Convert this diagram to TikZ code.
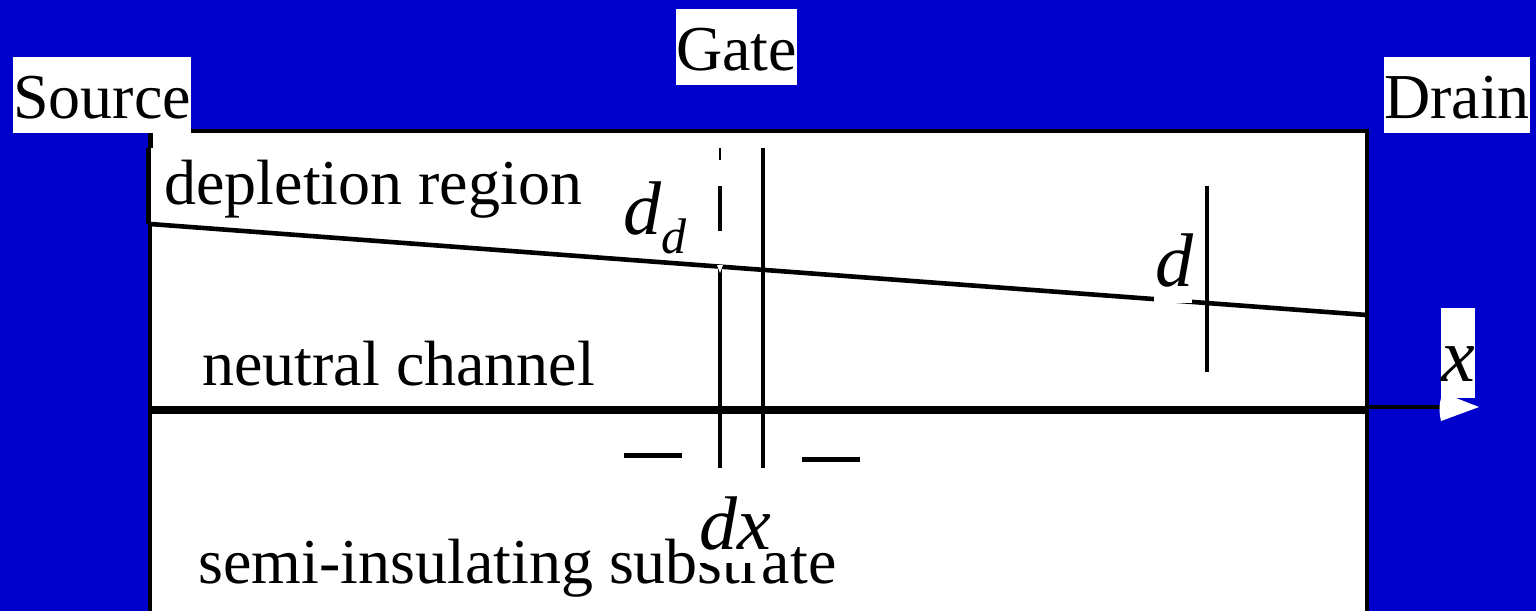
\documentclass[tikz,border=0pt]{standalone}
\usepackage{fontspec}
\setmainfont{Liberation Serif}
\definecolor{slideblue}{HTML}{0000CC}
\tikzset{
	wire/.style={draw=black, line width=2.3pt},
	padlabel/.style={anchor=base, fill=white, inner sep=0pt, minimum width=#1, text height=30.5pt, text depth=7.5pt, font=\fontsize{32}{36}\selectfont},
	regionlabel/.style={anchor=base west, inner sep=0pt, font=\fontsize{32}{36}\selectfont},
	symlabel/.style={anchor=base west, inner sep=0pt, font=\fontsize{38}{42}\selectfont\itshape}
}
\begin{document}
\begin{tikzpicture}[x=0.5pt, y=-0.5pt]
	% Fondo y dispositivo
	\useasboundingbox (0,0) rectangle (1536,611);
	\fill [slideblue] (0,0) rectangle (1536,611);
	\fill [white] (150,131) rectangle (1367,611);

	% Puntos de referencia
	\coordinate (topleft) at (150.5,131);
	\coordinate (topright) at (1367,131);
	\coordinate (notchtop) at (148.5,148);
	\coordinate (notchbot) at (148.5,224);
	\coordinate (botleft) at (150,611);
	\coordinate (botright) at (1367,611);
	\coordinate (depleft) at (150,224);
	\coordinate (depright) at (1367,315);
	\coordinate (chanleft) at (150,410);
	\coordinate (chanright) at (1367,410);
	\coordinate (axistail) at (1367,407);
	\coordinate (axishead) at (1442,407);

	% Contorno
	\draw [wire] (botleft) -- (depleft);
	\draw [wire] (notchtop) -- (notchbot);
	\draw [wire] (topleft |- notchtop) -- (topleft) -- (topright) -- (botright);

	% Zona de agotamiento, canal y eje
	\draw [wire] (depleft) -- (depright);
	\draw [draw=black, line width=3.6pt] (chanleft) -- (chanright);
	\draw [wire] (axistail) -- (axishead);

	% Cotas verticales
	\draw [draw=black, line width=1.2pt] (720,148) -- (720,160);
	\draw [wire] (720,186) -- (720,231);
	\draw [wire] (720,268) -- (720,468);
	\draw [wire] (763,148) -- (763,468);
	\draw [wire] (1207,186) -- (1207,372);
	\fill [white] (717,265) -- (723,265) -- (720,273) -- cycle;

	% Marcas de dx
	\draw [wire, line width=2.5pt] (624,455) -- (682,455);
	\draw [wire, line width=2.5pt] (802,459) -- (860,459);

	% Textos de las regiones
	\node (depletion) [regionlabel] at (164,204) {depletion region};
	\node (neutral) [regionlabel] at (202,385) {neutral channel};
	\node (substrate) [regionlabel] at (198,583) {semi-insulating substrate};

	% Etiquetas con fondo blanco
	\node (gate) [padlabel=121*0.5pt] at (736.5,70) {Gate};
	\node (source) [padlabel=178*0.5pt] at (102,118) {Source};
	\node (drain) [padlabel=146*0.5pt] at (1457,118) {Drain};

	% Simbolos
	\fill [white] (698,480) rectangle (762,563);
	\node (dx) [symlabel] at (699,549) {dx};
	\node (dd) [symlabel] at (623,234) {d\raisebox{-9.5pt}{\fontsize{25}{28}\selectfont d}};
	\fill [white] (1154,232) rectangle (1192,302.5);
	\node (dlabel) [symlabel] at (1155,286) {d};

	% Punta de flecha y x
	\fill [white] (1441,308) rectangle (1475,398);
	\fill [white] (1479,407) -- (1456,398) -- (1441,398) .. controls (1439,405) and (1439,412) .. (1441,421) -- cycle;
	\node (xlabel) [symlabel] at (1441,381) {x};
\end{tikzpicture}
\end{document}
